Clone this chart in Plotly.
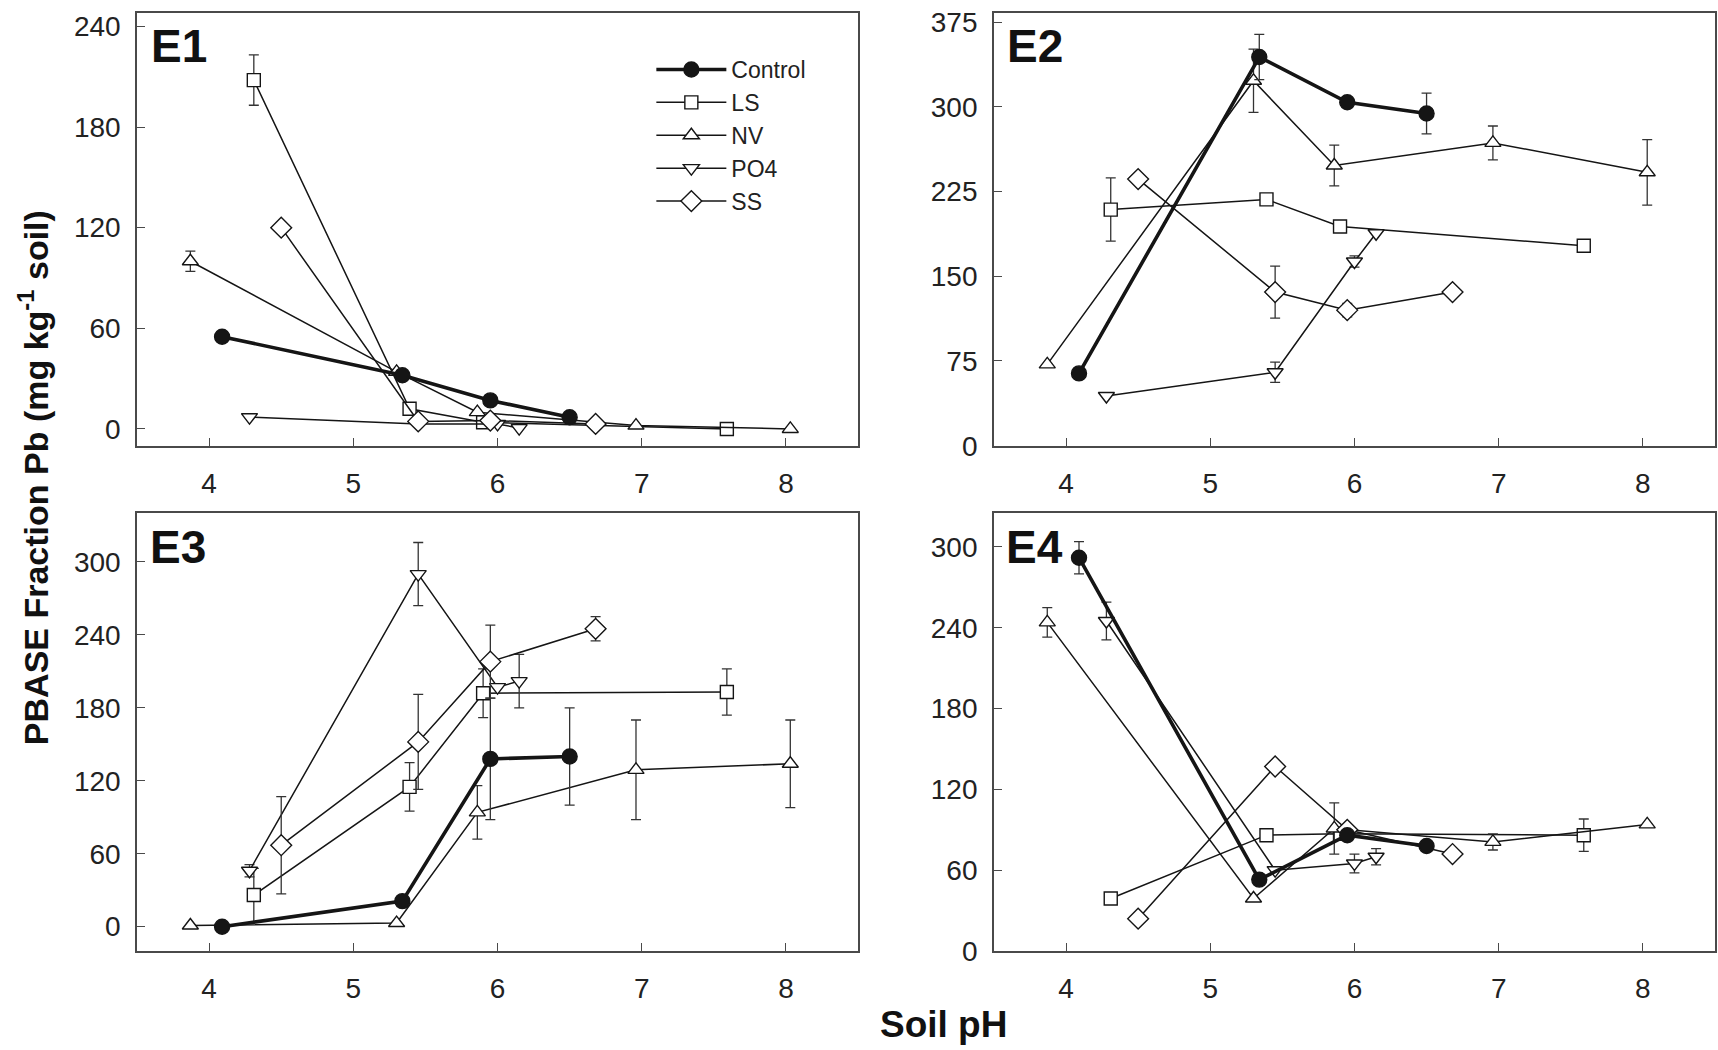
import plotly.graph_objects as go

# ---- data ----
series_names = ["Control", "LS", "NV", "PO4", "SS"]

control_ph = [4.09, 5.34, 5.95, 6.50]
ls_ph = [4.31, 5.39, 5.90, 7.59]
nv_ph = [3.87, 5.30, 5.86, 6.96, 8.03]
po4_ph = [4.28, 5.45, 6.00, 6.15]
ss_ph = [4.50, 5.45, 5.95, 6.68]

# E1
e1_control = [55, 32, 17, 7]
e1_control_err = [0, 0, 0, 0]
e1_ls = [208, 12, 4, 0]
e1_ls_err = [15, 0, 0, 0]
e1_nv = [100, 34, 10, 2, 0]
e1_nv_err = [6, 0, 0, 0, 0]
e1_po4 = [7, 3, 3, 0.5]
e1_po4_err = [0, 0, 0, 0]
e1_ss = [120, 4.5, 5, 3]
e1_ss_err = [0, 0, 0, 0]

# E2
e2_control = [64, 344, 304, 294]
e2_control_err = [0, 20, 0, 18]
e2_ls = [209, 218, 194, 177]
e2_ls_err = [28, 0, 0, 0]
e2_nv = [72, 323, 248, 268, 242]
e2_nv_err = [0, 28, 18, 15, 29]
e2_po4 = [44, 65, 163, 188]
e2_po4_err = [0, 9, 5, 0]
e2_ss = [236, 136, 120, 136]
e2_ss_err = [0, 23, 6, 0]

# E3
e3_control = [0, 21, 138, 140]
e3_control_err = [0, 0, 50, 40]
e3_ls = [26, 115, 192, 193]
e3_ls_err = [22, 20, 20, 19]
e3_nv = [1, 3, 94, 129, 134]
e3_nv_err = [0, 0, 22, 41, 36]
e3_po4 = [46, 290, 197, 202]
e3_po4_err = [5, 26, 0, 22]
e3_ss = [67, 152, 218, 245]
e3_ss_err = [40, 39, 30, 10]

# E4
e4_control = [292, 53, 86, 78]
e4_control_err = [12, 0, 0, 0]
e4_ls = [39, 86, 87, 86]
e4_ls_err = [0, 0, 0, 12]
e4_nv = [244, 39, 91, 81, 94]
e4_nv_err = [11, 0, 19, 6, 0]
e4_po4 = [245, 60, 65, 70]
e4_po4_err = [14, 0, 7, 6]
e4_ss = [24, 137, 90, 72]
e4_ss_err = [0, 0, 0, 0]

panel_labels = ["E1", "E2", "E3", "E4"]
x_ticks = [4, 5, 6, 7, 8]
e1_yticks = [0, 60, 120, 180, 240]
e2_yticks = [0, 75, 150, 225, 300, 375]
e3_yticks = [0, 60, 120, 180, 240, 300]
e4_yticks = [0, 60, 120, 180, 240, 300]

# ---- styles ----
INK = "#151515"
FONT = "Arial, Liberation Sans, sans-serif"
styles = {
    "Control": dict(symbol="circle", size=15, fill=INK, lw=3.6),
    "LS": dict(symbol="square", size=13, fill="white", lw=1.5),
    "NV": dict(symbol="triangle-up", size=14, fill="white", lw=1.5),
    "PO4": dict(symbol="triangle-down", size=14, fill="white", lw=1.5),
    "SS": dict(symbol="diamond", size=16, fill="white", lw=1.5),
}

panels = [
    ("x", "y", [(control_ph, e1_control, e1_control_err), (ls_ph, e1_ls, e1_ls_err),
                (nv_ph, e1_nv, e1_nv_err), (po4_ph, e1_po4, e1_po4_err), (ss_ph, e1_ss, e1_ss_err)]),
    ("x2", "y2", [(control_ph, e2_control, e2_control_err), (ls_ph, e2_ls, e2_ls_err),
                  (nv_ph, e2_nv, e2_nv_err), (po4_ph, e2_po4, e2_po4_err), (ss_ph, e2_ss, e2_ss_err)]),
    ("x3", "y3", [(control_ph, e3_control, e3_control_err), (ls_ph, e3_ls, e3_ls_err),
                  (nv_ph, e3_nv, e3_nv_err), (po4_ph, e3_po4, e3_po4_err), (ss_ph, e3_ss, e3_ss_err)]),
    ("x4", "y4", [(control_ph, e4_control, e4_control_err), (ls_ph, e4_ls, e4_ls_err),
                  (nv_ph, e4_nv, e4_nv_err), (po4_ph, e4_po4, e4_po4_err), (ss_ph, e4_ss, e4_ss_err)]),
]

fig = go.Figure()
order = [1, 2, 3, 4, 0]  # draw control last (on top)
for pi, (xa, ya, data) in enumerate(panels):
    for si in order:
        name = series_names[si]
        xs, ys, es = data[si]
        st = styles[name]
        fig.add_trace(go.Scatter(
            x=xs, y=ys, xaxis=xa, yaxis=ya, name=name, mode="lines+markers",
            legendrank=si + 1,
            showlegend=(pi == 0),
            line=dict(color=INK, width=st["lw"]),
            marker=dict(symbol=st["symbol"], size=st["size"], color=st["fill"],
                        line=dict(color=INK, width=1.4)),
            error_y=dict(type="data", array=es, visible=True, color="#333",
                         thickness=1.3, width=5),
        ))

L, R, T, B = 137, 1, 13, 99
W, H = 1718, 1050
PW, PH = W - L - R, H - T - B


def px(xf):
    return (xf - L) / PW


def py(yf):
    return (H - B - yf) / PH


xdom_left = [0, px(859)]
xdom_right = [px(995), 1.0]
ydom_top = [py(445.7), 1.0]
ydom_bot = [0.0, py(513.3)]

font_ticks = dict(family=FONT, size=28, color="#222")
axis_common = dict(showline=True, mirror=True, linecolor="#4a4a4a", linewidth=1.6,
                   showgrid=False, zeroline=False, ticks="inside", ticklen=8,
                   tickcolor="#4a4a4a", tickwidth=1.2, tickfont=font_ticks)

layout_axes = {}
for i, (xdom, ydom, yr, yt, anchor_x, anchor_y) in enumerate([
    (xdom_left, ydom_top, [-10, 248], e1_yticks, "y", "x"),
    (xdom_right, ydom_top, [0, 383], e2_yticks, "y2", "x2"),
    (xdom_left, ydom_bot, [-20, 340], e3_yticks, "y3", "x3"),
    (xdom_right, ydom_bot, [0, 325], e4_yticks, "y4", "x4"),
]):
    sfx = "" if i == 0 else str(i + 1)
    layout_axes["xaxis" + sfx] = dict(axis_common, domain=xdom, range=[3.5, 8.5],
                                      tickvals=x_ticks, anchor=anchor_x,
                                      ticklabelstandoff=12)
    layout_axes["yaxis" + sfx] = dict(axis_common, domain=ydom, range=yr,
                                      tickvals=yt, anchor=anchor_y,
                                      ticklabelstandoff=9)

fig.update_layout(**layout_axes)

annotations = []
for lab, xf, yf in [("E1", 149, 46), ("E2", 1006, 46), ("E3", 148, 547), ("E4", 1005, 547)]:
    annotations.append(dict(text="<b>%s</b>" % lab, x=px(xf), y=py(yf), xref="paper", yref="paper",
                            xanchor="left", yanchor="middle", showarrow=False,
                            font=dict(family=FONT, size=46, color="#111")))
annotations.append(dict(text="<b>PBASE Fraction Pb (mg kg<sup>-1</sup> soil)</b>", x=px(33), y=py(478),
                        xref="paper", yref="paper", textangle=-90, showarrow=False,
                        xanchor="center", yanchor="middle",
                        font=dict(family=FONT, size=34, color="#111")))
annotations.append(dict(text="<b>Soil pH</b>", x=px(945), y=py(1024), xref="paper", yref="paper",
                        showarrow=False, xanchor="center", yanchor="middle",
                        font=dict(family=FONT, size=37, color="#111")))

fig.update_layout(
    width=W, height=H,
    margin=dict(l=L, r=R, t=T, b=B),
    paper_bgcolor="white", plot_bgcolor="white",
    annotations=annotations,
    showlegend=True,
    legend=dict(x=px(652), y=py(48), xanchor="left", yanchor="top", xref="paper", yref="paper",
                bgcolor="rgba(255,255,255,0)", itemwidth=70, tracegroupgap=0,
                font=dict(family=FONT, size=23, color="#222")),
)

fig.write_html("out.html")
